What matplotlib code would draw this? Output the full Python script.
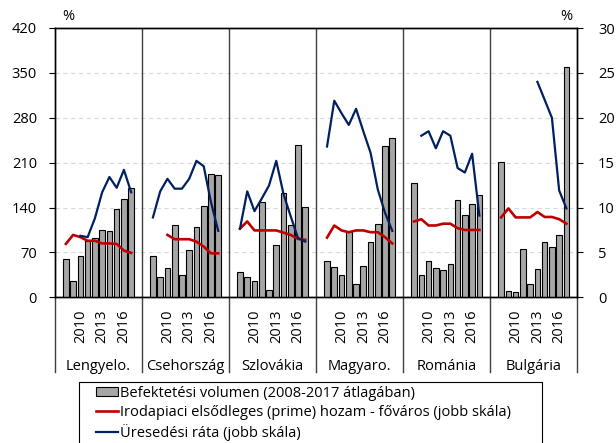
import numpy as np
import matplotlib
matplotlib.use("Agg")
import matplotlib.pyplot as plt
from matplotlib.patches import Rectangle, Patch
from matplotlib.lines import Line2D
import matplotlib.transforms as mtrans

plt.rcParams['font.family'] = ['Open Sans', 'DejaVu Sans']

nan = np.nan
countries = ["Lengyelo.", "Csehország", "Szlovákia", "Magyaro.", "Románia", "Bulgária"]
years = list(range(2008, 2018))
year_ticks = [2010, 2013, 2016]

vol_pl = [60, 25, 64, 88, 92, 105, 103, 138, 153, 170]
vol_cz = [64, 31, 45, 112, 35, 74, 109, 142, 193, 190]
vol_sk = [40, 32, 25, 149, 12, 81, 162, 112, 238, 141]
vol_hu = [56, 47, 34, 102, 21, 49, 87, 114, 236, 248]
vol_ro = [179, 34, 57, 45, 42, 52, 151, 128, 145, 160]
vol_bg = [211, 10, 9, 76, 21, 44, 87, 79, 97, 359]

yld_pl = [5.95, 6.95, 6.7, 6.3, 6.3, 6.0, 6.0, 5.95, 5.2, 4.95]
yld_cz = [nan, nan, 6.95, 6.47, 6.47, 6.47, 6.2, 5.65, 4.9, 4.9]
yld_sk = [7.65, 8.45, 7.45, 7.45, 7.45, 7.45, 7.2, 6.95, 6.5, 6.4]
yld_hu = [6.65, 8.0, 7.45, 7.25, 7.45, 7.45, 7.25, 7.25, 6.7, 6.0]
yld_ro = [8.45, 8.7, 8.0, 8.0, 8.2, 8.2, 7.7, 7.5, 7.5, 7.5]
yld_bg = [8.9, 9.9, 8.9, 8.9, 8.9, 9.5, 8.95, 8.95, 8.7, 8.2]

vac_pl = [nan, nan, 6.85, 6.7, 8.8, 11.7, 13.4, 12.2, 14.2, 11.7]
vac_cz = [8.9, 11.8, 13.2, 12.1, 12.1, 13.2, 15.2, 14.6, 10.6, 7.4]
vac_sk = [7.65, 11.8, 9.6, 11.0, 12.45, 15.2, 11.5, 9.0, 6.6, 6.2]
vac_hu = [16.8, 21.9, 20.5, 19.2, 21.0, 18.5, 16.1, 12.0, 9.4, 7.4]
vac_ro = [nan, 18.0, 18.5, 16.6, 18.5, 18.0, 14.4, 13.9, 16.0, 9.1]
vac_bg = [nan, nan, nan, nan, nan, 24.0, 22.0, 20.0, 11.9, 9.9]

vols = [vol_pl, vol_cz, vol_sk, vol_hu, vol_ro, vol_bg]
ylds = [yld_pl, yld_cz, yld_sk, yld_hu, yld_ro, yld_bg]
vacs = [vac_pl, vac_cz, vac_sk, vac_hu, vac_ro, vac_bg]

labels = ["Befektetési volumen (2008-2017 átlagában)",
          "Irodapiaci elsődleges (prime) hozam - főváros (jobb skála)",
          "Üresedési ráta (jobb skála)"]

BAR = "#a6a6a6"
RED = "#c00000"
BLUE = "#002060"
FS = 10.5

W, H = 616, 443
fig = plt.figure(figsize=(W / 100, H / 100), dpi=100)
L, R, T, B = 55, 577.3, 28, 297.3
ax = fig.add_axes([L / W, 1 - B / H, (R - L) / W, (B - T) / H])
ax2 = ax.twinx()

slots = 12
n = len(countries)
for i in range(n):
    xs = np.arange(len(years)) + i * slots + 1
    ax.bar(xs, vols[i], width=0.78, color=BAR, edgecolor="black", linewidth=0.8, zorder=3)
    ax2.plot(xs, ylds[i], color=RED, lw=1.9, zorder=4)
    ax2.plot(xs, vacs[i], color=BLUE, lw=1.6, zorder=5)

ax.set_xlim(-0.5, n * slots - 0.5)
ax.set_ylim(0, 420)
ax2.set_ylim(0, 30)
ax.set_yticks(np.arange(0, 421, 70))
ax2.set_yticks(np.arange(0, 31, 5))
ax.set_axisbelow(True)
ax.yaxis.grid(True, color="#d9d9d9", linestyle=(0, (4, 3)), lw=0.8)
for g in ax.get_ygridlines()[-1:]:
    g.set_visible(False)

# x ticks (years)
tick_pos, tick_lab = [], []
for i in range(n):
    for y in year_ticks:
        tick_pos.append(i * slots + 1 + years.index(y))
        tick_lab.append(str(y))
ax.set_xticks(tick_pos)
ax.set_xticklabels(tick_lab, rotation=90, fontsize=FS)
ax.tick_params(axis="x", length=0, pad=8.5)
ax.tick_params(axis="y", labelsize=FS, length=4, width=0.8, pad=9, direction="out")
ax2.tick_params(axis="y", labelsize=FS, length=4, width=0.8, pad=11, direction="out")

for ax_ in (ax, ax2):
    for s in ax_.spines.values():
        s.set_linewidth(1.0)
        s.set_color("black")

# panel separators inside plot
for i in range(1, n):
    ax.axvline(i * slots - 0.5, color="#404040", lw=1.0, zorder=2)

# separators below axis
trans = mtrans.blended_transform_factory(ax.transData, ax.transAxes)
ybot = -(372 - B) / (B - T)
for i in range(0, n + 1):
    ax.add_line(Line2D([i * slots - 0.5] * 2, [0, ybot], transform=trans,
                       color="#404040", lw=1.0, clip_on=False))

ylab = -(366 - B) / (B - T)
for i, c in enumerate(countries):
    ax.text(i * slots + 5.5, ylab, c, transform=trans, ha="center", va="center", fontsize=FS)

# percent labels
fig.text(68 / W, 1 - 16 / H, "%", ha="center", va="center", fontsize=FS)
fig.text(566.7 / W, 1 - 16 / H, "%", ha="center", va="center", fontsize=FS)

# legend box
fig.patches.append(Rectangle((79.3 / W, -0.05), (542.3 - 79.3) / W, 1 - 381.7 / H + 0.05,
                             transform=fig.transFigure, fill=False, edgecolor="black",
                             lw=0.8))
handles = [Patch(facecolor=BAR, edgecolor="black", linewidth=0.8),
           Line2D([], [], color=RED, lw=1.9),
           Line2D([], [], color=BLUE, lw=1.6)]
fig.legend(handles, labels, loc="upper left",
           bbox_to_anchor=(96 / W, 1 - 386.0 / H), frameon=False, fontsize=FS,
           borderpad=0, borderaxespad=0, handlelength=1.5, handletextpad=0.15,
           labelspacing=0.27, handleheight=0.6)

fig.savefig("out.png", dpi=100)
